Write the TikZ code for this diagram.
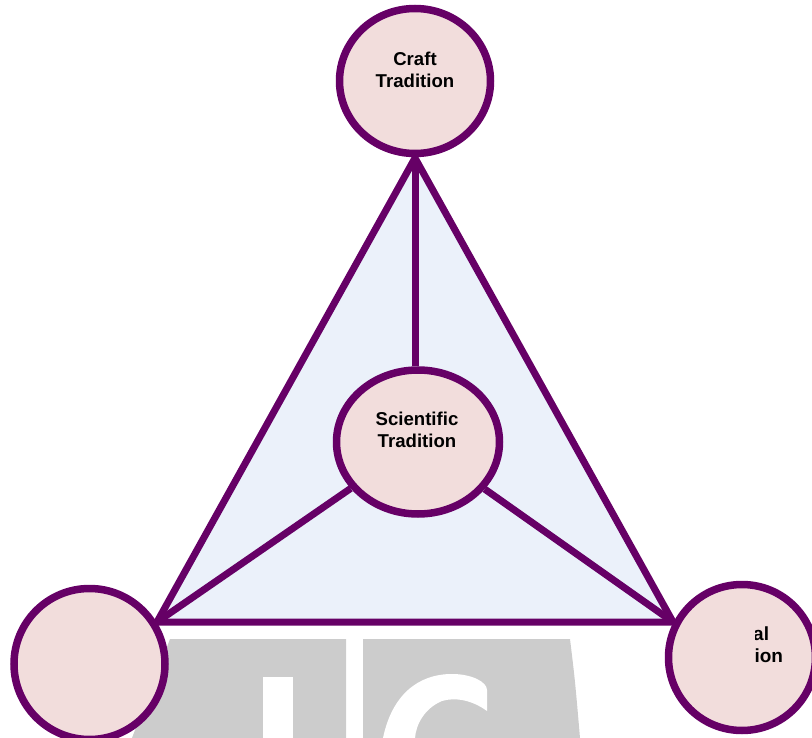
\documentclass[tikz,border=0pt]{standalone}
\usepackage{fontspec}
\setmainfont{Liberation Sans}
\usetikzlibrary{shapes.geometric}
\definecolor{plum}{RGB}{102,0,102}
\definecolor{pinkfill}{RGB}{242,221,220}
\definecolor{trifill}{RGB}{235,241,250}
\definecolor{wmgrey}{RGB}{204,204,204}
\tikzset{
  trad/.style={ellipse, draw=plum, line width=7.5pt, fill=pinkfill, inner sep=0pt},
  tradtext/.style={align=center, font=\bfseries\fontsize{18.6}{21.8}\selectfont, inner sep=0pt},
  sidetext/.style={font=\bfseries\fontsize{19}{22}\selectfont, inner sep=0pt, anchor=base west},
  link/.style={draw=plum, line width=7pt},
}
\begin{document}
\begin{tikzpicture}[x=1pt,y=-1pt]
\useasboundingbox (0,0) rectangle (812,738);
% watermark
\fill[wmgrey] (170,639) -- (346,639) -- (346,738) -- (132,738) -- cycle;
\fill[wmgrey] (363,639) -- (570,639) .. controls (575,680) .. (580,738) -- (363,738) -- cycle;
\fill[white] (263,677) rectangle (293,738);
\fill[white] (383,738) .. controls (392,695) and (418,674) .. (452,674)
  .. controls (472,674) and (487,682) .. (487,690) -- (487,711)
  .. controls (472,700) and (455,697) .. (442,701)
  .. controls (425,708) and (416,724) .. (415,738) -- cycle;
% triangle
\coordinate (T) at (415,158);
\coordinate (L) at (157,622);
\coordinate (R) at (673,622);
\filldraw[fill=trifill, draw=plum, line width=7pt, line join=miter] (T) -- (R) -- (L) -- cycle;
% circles
\node[trad, minimum width=163pt, minimum height=144pt] (sci) at (418,442) {};
\draw[link] (T) -- (T |- sci.north);
\draw[link] (sci) -- (L);
\draw[link] (sci) -- (R);
\node[trad, minimum width=151pt, minimum height=145pt] (craft) at (415,81) {};
\node[trad, minimum width=151pt, minimum height=151pt] (left) at (89.5,664) {};
\node[trad, minimum width=147pt, minimum height=146pt] (right) at (742,657.5) {};
% texts
\node[tradtext] (craftT) at (415,70) {Craft\\Tradition};
\node[tradtext] (sciT) at (417,430) {Scientific\\Tradition};
\begin{scope}
\clip (755.5,600) rectangle (812,700);
\node[sidetext] (rightA) at (753,640) {al};
\node[sidetext] (rightB) at (754.4,662.7) {ion};
\end{scope}
\end{tikzpicture}
\end{document}
